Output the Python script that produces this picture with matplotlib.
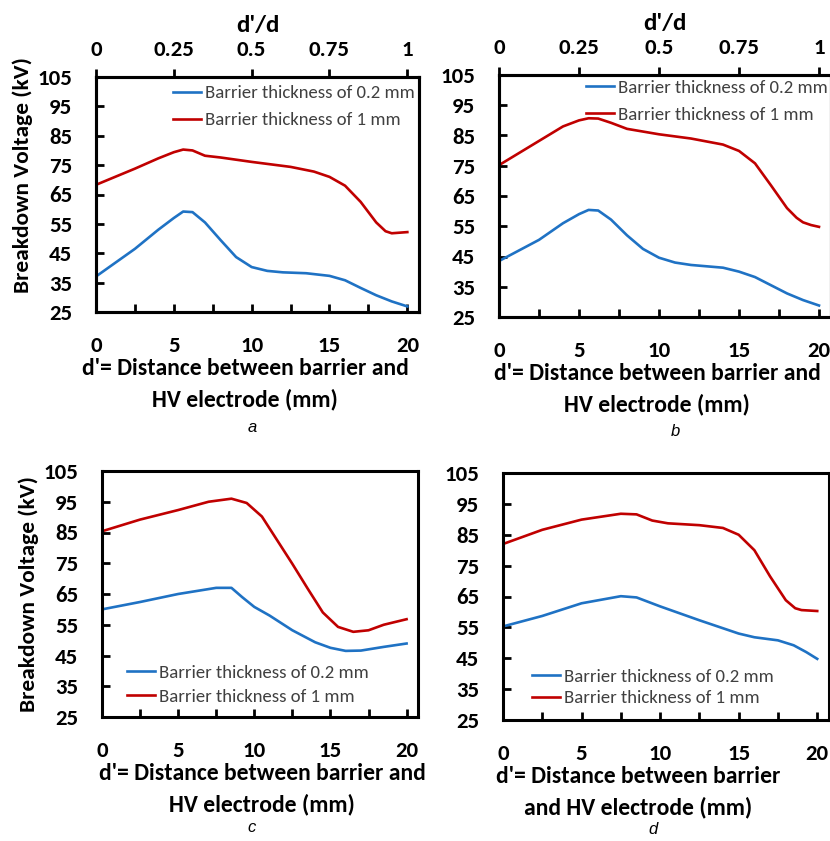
import numpy as np
import matplotlib.pyplot as plt
from matplotlib.ticker import MultipleLocator

plt.rcParams['font.family'] = 'Carlito'
plt.rcParams['font.weight'] = 'bold'

BLUE = '#1f72c4'
RED = '#c00000'

# (a)
xa_thin = [0, 2.5, 4, 5, 5.6, 6.2, 7, 8, 9, 10, 11, 12, 13.5, 15, 16, 17, 18, 19, 20]
ya_thin = [37.1, 46.5, 53, 57, 59.2, 59, 55.5, 49.5, 43.7, 40.3, 39, 38.5, 38.2, 37.3, 35.8, 33.2, 30.7, 28.6, 26.9]
xa_thick = [0, 2.5, 4, 5, 5.6, 6.2, 7, 8, 10, 12.5, 14, 15, 16, 17, 18, 18.6, 19, 19.5, 20]
ya_thick = [68.3, 73.8, 77.3, 79.4, 80.3, 80, 78.2, 77.6, 76.1, 74.4, 72.8, 71, 68, 62.5, 55.5, 52.5, 51.8, 52.0, 52.2]

# (b)
xb_thin = [0, 2.5, 4, 5, 5.6, 6.2, 7, 8, 9, 10, 11, 12, 14, 15, 16, 17, 18, 19, 20]
yb_thin = [43.5, 50.5, 56, 59, 60.4, 60.2, 57.2, 52, 47.5, 44.6, 43, 42.2, 41.3, 40, 38.2, 35.5, 32.8, 30.6, 28.8]
xb_thick = [0, 2.5, 4, 5, 5.6, 6.2, 7, 8, 10, 12, 14, 15, 16, 17, 18, 18.6, 19, 19.5, 20]
yb_thick = [75.2, 83.2, 88, 90, 90.7, 90.6, 89.2, 87.2, 85.4, 84, 82, 79.9, 75.8, 68.5, 61, 57.8, 56.3, 55.4, 54.8]

# (c)
xc_thin = [0, 2.5, 5, 7.5, 8.5, 9.2, 10, 11, 12.5, 14, 15, 16, 17, 18.5, 20]
yc_thin = [60, 62.4, 65, 67, 67, 64, 60.8, 58, 53.2, 49.3, 47.5, 46.5, 46.6, 47.8, 48.9]
xc_thick = [0, 2.5, 5, 7, 8.5, 9.5, 10.5, 11.5, 12.5, 13.5, 14.5, 15.5, 16.5, 17.5, 18.5, 20]
yc_thick = [85.4, 89.2, 92.3, 95, 96, 94.6, 90.2, 82.5, 74.8, 66.8, 59, 54.3, 52.7, 53.2, 55, 56.8]

# (d)
xd_thin = [0, 2.5, 5, 7.5, 8.5, 10, 12.5, 15, 16, 17.5, 18.5, 19.3, 20]
yd_thin = [55.3, 58.7, 62.8, 65.1, 64.7, 61.8, 57.3, 53, 51.8, 50.8, 49.2, 47, 44.8]
xd_thick = [0, 2.5, 5, 7.5, 8.5, 9.5, 10.5, 12.5, 14, 15, 16, 17, 18, 18.6, 19, 20]
yd_thick = [82, 86.6, 89.9, 91.8, 91.6, 89.6, 88.7, 88.1, 87.2, 85, 80, 71.5, 63.8, 61.2, 60.6, 60.3]

labels = ['Barrier thickness of 0.2 mm', 'Barrier thickness of 1 mm']
y_ticks = [25, 35, 45, 55, 65, 75, 85, 95, 105]
x_ticks = [0, 5, 10, 15, 20]
top_ticks = [0, 0.25, 0.5, 0.75, 1]
top_ticklabels = ['0', '0.25', '0.5', '0.75', '1']

W, H = 830, 841
fig = plt.figure(figsize=(W / 100, H / 100), dpi=100)

XMAX = 20.75
FS = 16.5


def box(l, t, r, b):
    return [l / W, 1 - b / H, (r - l) / W, (b - t) / H]


panels = [
    dict(rect=box(96, 77, 419, 312), x=(xa_thin, xa_thick), y=(ya_thin, ya_thick), top=True, ylab=0.583,
         leg=(0.238, 0.965), lsp=0.57, xlab_x=0.461,
         xlabel="d'= Distance between barrier and\nHV electrode (mm)", cap=('a', 252, 428)),
    dict(rect=box(499, 75, 831, 317), x=(xb_thin, xb_thick), y=(yb_thin, yb_thick), top=True, ylab=None,
         leg=(0.262, 0.98), lsp=0.57, xlab_x=0.476,
         xlabel="d'= Distance between barrier and\nHV electrode (mm)", cap=('b', 675, 432)),
    dict(rect=box(102, 471, 418, 717), x=(xc_thin, xc_thick), y=(yc_thin, yc_thick), top=False, ylab=0.5,
         leg=(0.078, 0.213), lsp=0.41, xlab_x=0.506,
         xlabel="d'= Distance between barrier and\nHV electrode (mm)", cap=('c', 252, 828)),
    dict(rect=box(503, 473, 829, 720), x=(xd_thin, xd_thick), y=(yd_thin, yd_thick), top=False, ylab=None,
         leg=(0.09, 0.208), lsp=0.28, xlab_x=0.414,
         xlabel="d'= Distance between barrier\nand HV electrode (mm)", cap=('d', 653, 830)),
]

for p in panels:
    ax = fig.add_axes(p['rect'])
    ax.plot(p['x'][0], p['y'][0], color=BLUE, lw=1.9, label=labels[0])
    ax.plot(p['x'][1], p['y'][1], color=RED, lw=1.9, label=labels[1])
    ax.set_xlim(0, XMAX)
    ax.set_ylim(25, 105)
    ax.set_yticks(y_ticks)
    ax.set_xticks(x_ticks)
    ax.xaxis.set_minor_locator(MultipleLocator(2.5))
    for s in ax.spines.values():
        s.set_linewidth(2.2)
    ax.tick_params(axis='y', direction='in', length=6, width=2, pad=17, labelsize=FS)
    ax.tick_params(axis='x', which='both', direction='in', length=6, width=2, pad=17, labelsize=FS)
    ax.set_xlabel(p['xlabel'], fontsize=17, fontweight='bold', linespacing=1.5, labelpad=2)
    ax.xaxis.label.set_x(p['xlab_x'])
    if p['ylab'] is not None:
        ax.set_ylabel('Breakdown Voltage (kV)', fontsize=16.8, fontweight='bold', labelpad=3)
        ax.yaxis.label.set_y(p['ylab'])
    leg = ax.legend(loc='upper left', bbox_to_anchor=p['leg'], frameon=False,
                    prop={'family': 'Carlito', 'weight': 'normal', 'size': 13.5},
                    handlelength=1.5, handletextpad=0.2, borderpad=0, borderaxespad=0,
                    labelspacing=p['lsp'])
    for t in leg.get_texts():
        t.set_color('#404040')
    if p['top']:
        ax2 = ax.twiny()
        ax2.set_xlim(0, XMAX / 20)
        ax2.set_xticks(top_ticks)
        ax2.set_xticklabels(top_ticklabels)
        ax2.tick_params(axis='x', direction='out', length=6, width=2, pad=6, labelsize=FS)
        ax2.set_xlabel("d'/d", fontsize=18, fontweight='bold', labelpad=6)
        for s in ax2.spines.values():
            s.set_linewidth(2.2)
    fig.text(p['cap'][1] / W, 1 - p['cap'][2] / H, p['cap'][0], fontsize=12, style='italic',
             fontweight='normal', ha='center', va='center', family='Liberation Sans')

fig.savefig('out.png', dpi=100)
